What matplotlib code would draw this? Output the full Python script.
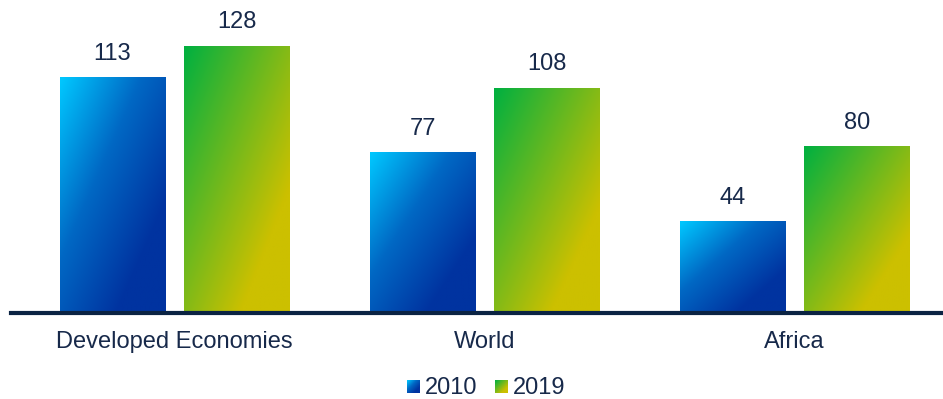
import numpy as np
import matplotlib
matplotlib.use("Agg")
import matplotlib.pyplot as plt
from matplotlib.colors import LinearSegmentedColormap

plt.rcParams["font.family"] = ["Liberation Sans", "DejaVu Sans"]

categories = ["Developed Economies", "World", "Africa"]
series_names = ["2010", "2019"]
values_2010 = [113, 77, 44]
values_2019 = [128, 108, 80]

TEXT = "#17294A"
AXIS = "#0B2343"
cmaps = [
    LinearSegmentedColormap.from_list("blue_grad", ["#00C8FF", "#0068C4", "#0033A0"]),
    LinearSegmentedColormap.from_list("green_grad", ["#00B040", "#66B820", "#CCC000"]),
]


def gradient(nx=60, ny=120):
    u = np.linspace(0, 1, nx)[None, :]
    v = np.linspace(0, 1, ny)[:, None]
    return np.clip((u + v) / 2 * 1.3, 0, 1)


W, H = 943, 399
fig = plt.figure(figsize=(W / 100, H / 100), dpi=100)
ax = fig.add_axes([11 / W, (H - 313) / H, (W - 11) / W, 313 / H])

x = np.arange(len(categories))
width = 0.3386
offset = 0.2

for si, vals in enumerate([values_2010, values_2019]):
    xs = x + (offset * (2 * si - 1))
    bars = ax.bar(xs, vals, width=width, color="none", edgecolor="none", zorder=2)
    for bar, val in zip(bars, vals):
        x0 = bar.get_x()
        w = bar.get_width()
        h = bar.get_height()
        im = ax.imshow(gradient(), cmap=cmaps[si], vmin=0, vmax=1,
                       extent=(x0, x0 + w, 0, h), origin="upper",
                       aspect="auto", interpolation="bilinear", zorder=2)
        im.set_clip_path(bar)
        ax.annotate(f"{val}", (x0 + w / 2, h), xytext=(0, 9),
                    textcoords="offset points", ha="center", va="bottom",
                    fontsize=17, color=TEXT)

ax.set_xlim(-0.527, 2.478)
ax.set_ylim(0, 150)

for side in ["top", "right", "left"]:
    ax.spines[side].set_visible(False)
ax.spines["bottom"].set_color(AXIS)
ax.spines["bottom"].set_linewidth(3)
ax.spines["bottom"].set_zorder(3)
ax.set_yticks([])
ax.set_xticks(x)
ax.set_xticklabels(categories, fontsize=17, color=TEXT)
ax.tick_params(axis="x", length=0, pad=13)

# legend with gradient swatches
sw = 13 / W
sh = 13 / H
for i, (name, lx) in enumerate(zip(series_names, [407, 495])):
    lax = fig.add_axes([lx / W, (H - 393) / H, sw, sh])
    lax.imshow(gradient(20, 20), cmap=cmaps[i], vmin=0, vmax=1,
               aspect="auto", interpolation="bilinear")
    lax.axis("off")
    fig.text((lx + 18) / W, (H - 388) / H, name, fontsize=17,
             color=TEXT, ha="left", va="center")

fig.savefig("out.png", dpi=100)
